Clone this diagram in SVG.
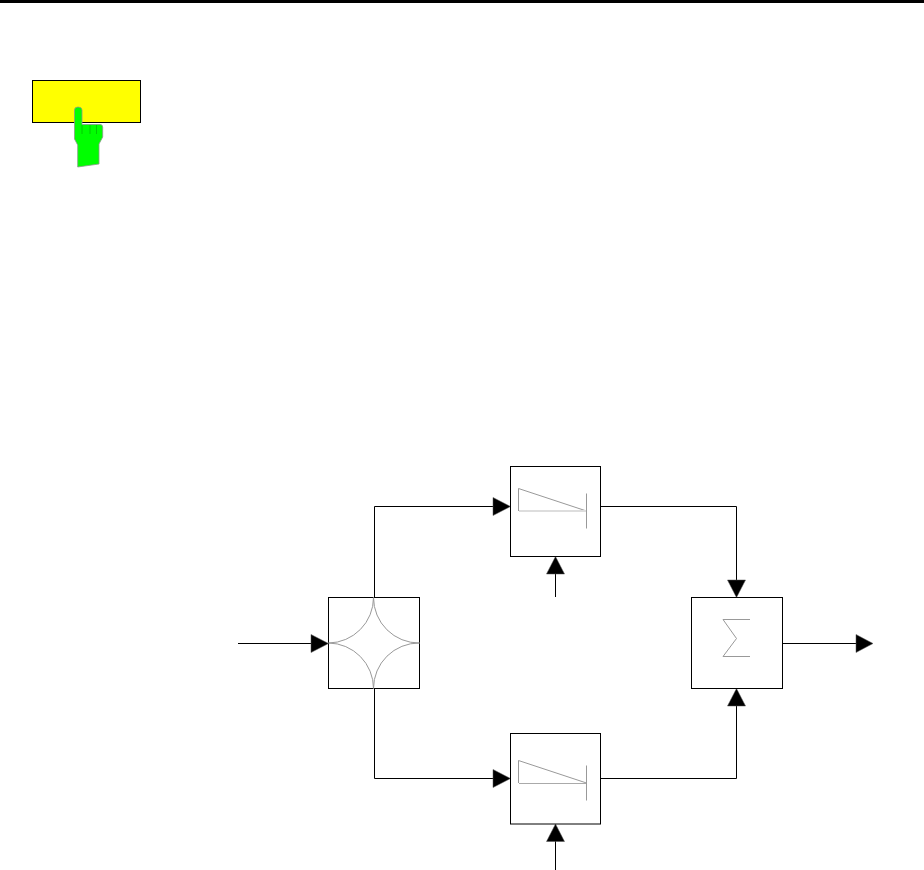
<svg xmlns="http://www.w3.org/2000/svg" width="924" height="870" viewBox="0 0 924 870">
<style>
.box{fill:#fff;stroke:#000;stroke-width:1}
.wire{fill:none;stroke:#000;stroke-width:1}
.sym{fill:none;stroke:#999;stroke-width:1}
.head{fill:#000;stroke:#555;stroke-width:.5}
</style>
<defs>
<path id="amp" d="M518.5 511V488.5L586.5 511M586.5 493.5V528.5"/>
</defs>
<rect x="0" y="0" width="924" height="3" fill="#000"/>
<g id="softkey">
<rect x="32.5" y="80.5" width="108" height="42" fill="#ff0" stroke="#000" stroke-width="1"/>
<path d="M74.500 110Q74.500 107 78 107Q82 107 82 110V124.500H100Q102.700 124.500 102.700 127V137L99 144V164L77.700 167V145L74.500 139Z" fill="#0f0" stroke="#8a9a8a" stroke-width=".8"/>
<path d="M82 125V134M90 125V134M96.500 125V134" fill="none" stroke="#0c0" stroke-width="1"/>
</g>
<g id="connectors">
<path class="wire" d="M238 643.500H312"/>
<path class="wire" d="M374.500 597V506.500H494"/>
<path class="wire" d="M374.500 688V778.500H494"/>
<path class="wire" d="M600 506.500H736.500V581"/>
<path class="wire" d="M600 778.500H736.500V705"/>
<path class="wire" d="M555.500 597V573"/>
<path class="wire" d="M555.500 870V841"/>
<path class="wire" d="M782 643.500H856"/>
<path class="head" d="M311 634.500L328.500 643.500L311 652.500Z"/>
<path class="head" d="M493 497.500L510.500 506.500L493 515.500Z"/>
<path class="head" d="M493 769.500L510.500 778.500L493 787.500Z"/>
<path class="head" d="M546.500 574L555.500 556.500L564.500 574Z"/>
<path class="head" d="M546.500 841.500L555.500 824L564.500 841.500Z"/>
<path class="head" d="M727.500 580L736.500 597.500L745.500 580Z"/>
<path class="head" d="M727.500 706L736.500 688.500L745.500 706Z"/>
<path class="head" d="M856 634.500L873 643.500L856 652.500Z"/>
</g>
<g id="splitter">
<rect class="box" x="328.500" y="597.500" width="91" height="91"/>
<path class="sym" d="M373.500 597.500A45.500 45.500 0 0 1 328.500 643M373.500 597.500A45.500 45.500 0 0 0 419.500 643M328.500 643A45.500 45.500 0 0 1 373.500 688.500M419.500 643A45.500 45.500 0 0 0 373.500 688.500"/>
</g>
<g id="mixer-top">
<rect class="box" x="510.500" y="466.500" width="90" height="90"/>
<use href="#amp" class="sym"/>
<path d="M519 511H586" stroke="#ddd" stroke-width="2" fill="none"/>
</g>
<g id="mixer-bottom">
<rect class="box" x="510.500" y="733.500" width="90" height="90.500"/>
<use href="#amp" class="sym" y="272"/>
<path d="M519 783.500H586" stroke="#aaa" fill="none"/>
</g>
<g id="summer">
<rect class="box" x="691.500" y="597.500" width="91" height="91"/>
<path class="sym" d="M750 619.500H723L736.500 638.500L723 656.500H750"/>
</g>
</svg>
